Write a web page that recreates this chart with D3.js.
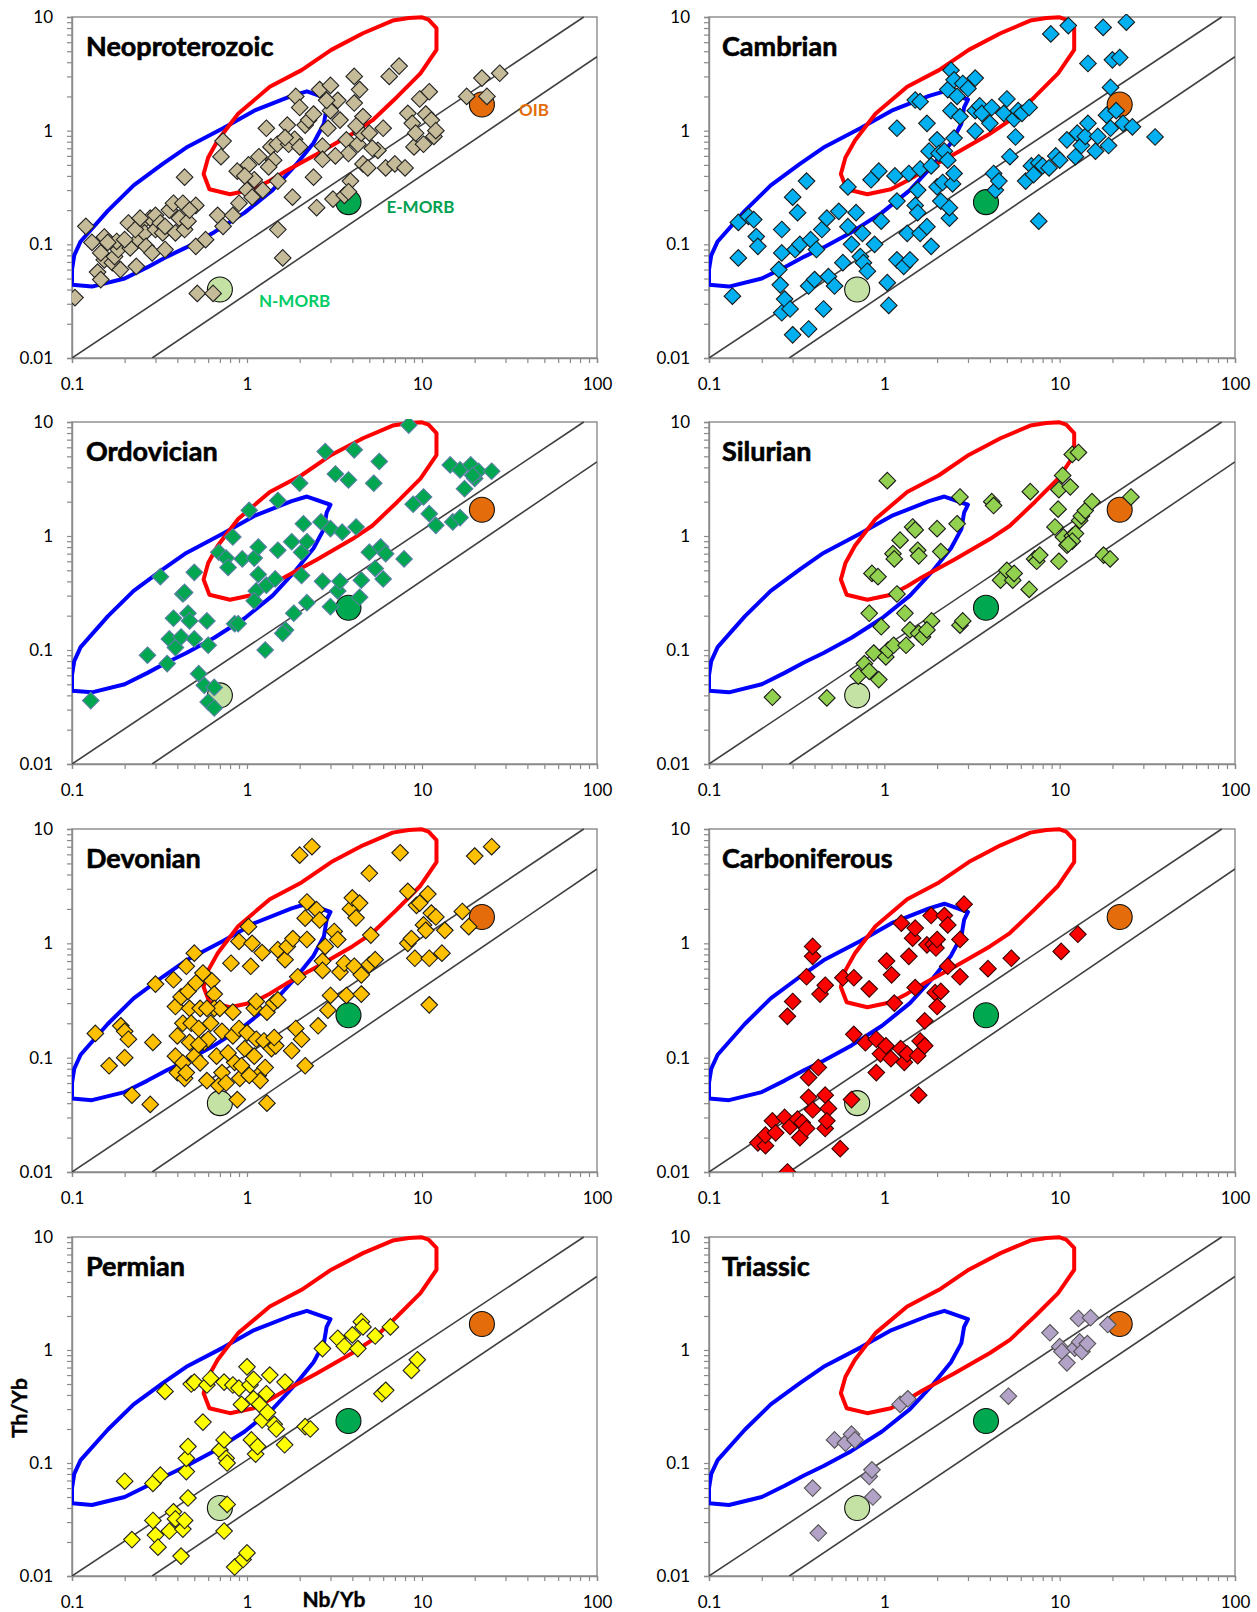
<!DOCTYPE html>
<html>
<head>
<meta charset="utf-8">
<script src="https://cdn.jsdelivr.net/npm/d3@7"></script>
<style>
  body { margin: 0; background: #fff; }
  text { font-family: Lato, "Open Sans", sans-serif; }
</style>
</head>
<body>
<svg id="chart" width="1257" height="1612"></svg>
<script>
// Th/Yb vs Nb/Yb discrimination diagrams by period.

const periods = ["Neoproterozoic", "Cambrian", "Ordovician", "Silurian",
                 "Devonian", "Carboniferous", "Permian", "Triassic"];

const xTickLabels = [0.1, 1, 10, 100];
const yTickLabels = [0.01, 0.1, 1, 10];

// MORB-OIB array boundaries [Nb/Yb, Th/Yb]
const arrayUpper = [[0.1, 0.01], [84, 10]];
const arrayLower = [[0.287, 0.01], [100, 4.47]];

// Outlined fields [Nb/Yb, Th/Yb]
const blueField = [[0.1,0.044],[0.13,0.0425],[0.2,0.05],[0.27,0.063],[0.35,0.078],[0.45,0.094],
  [0.65,0.128],[0.97,0.19],[1.4,0.3],[1.9,0.5],[2.4,0.78],[2.75,1.15],[2.85,1.6],[3.0,1.88],
  [2.2,2.22],[1.8,2.02],[1.1,1.5],[0.73,1.05],[0.45,0.71],[0.33,0.51],[0.225,0.33],[0.16,0.197],
  [0.112,0.106],[0.103,0.08],[0.1,0.06]];
const redField = [[0.8,0.276],[0.61,0.305],[0.565,0.415],[0.6,0.58],[0.68,0.82],[0.89,1.41],
  [1.35,2.43],[2.05,3.41],[3.03,5.14],[4.6,7.2],[6.8,9.3],[8.4,9.8],[10,9.93],[10.9,9.47],
  [12.1,8.0],[12.1,5.13],[9.8,3.19],[7.2,1.98],[5.2,1.23],[4.0,0.94],[2.5,0.62],[1.66,0.44],
  [1.35,0.363],[1.09,0.305]];

// Reference compositions
const refNames = ["N-MORB", "E-MORB", "OIB"];
const refNbYb = [0.7, 3.8, 22];
const refThYb = [0.04, 0.235, 1.7];

// Sample data [Nb/Yb, Th/Yb]
const neoproterozoic = [[0.104,0.034],[0.12,0.144],[0.13,0.104],[0.14,0.057],[0.146,0.049],[0.153,0.116],
  [0.153,0.073],[0.17,0.069],[0.175,0.078],[0.184,0.09],[0.18,0.106],[0.189,0.06],[0.21,0.154],[0.215,0.093],
  [0.233,0.064],[0.24,0.11],[0.25,0.154],[0.26,0.126],[0.265,0.096],[0.28,0.17],[0.287,0.084],[0.30,0.18],
  [0.30,0.135],[0.32,0.154],[0.33,0.126],[0.34,0.09],[0.36,0.20],[0.38,0.23],[0.39,0.126],[0.41,0.17],
  [0.44,0.39],[0.44,0.135],[0.46,0.16],[0.51,0.22],[0.51,0.096],[0.58,0.11],[0.68,0.18],[0.73,0.144],
  [0.73,0.81],[0.71,0.59],[0.83,0.18],[0.90,0.23],[0.88,0.44],[1.0,0.30],[1.02,0.50],[1.1,0.37],
  [1.17,0.59],[1.23,0.30],[1.29,1.05],[1.37,0.72],[1.42,0.55],[1.49,0.76],[1.5,0.36],[1.5,0.135],
  [1.6,0.076],[1.7,1.12],[1.73,0.76],[1.82,0.26],[1.87,0.84],[1.9,2.0],[2.0,1.6],[2.15,1.12],
  [2.25,1.24],[2.4,1.4],[2.4,0.39],[2.5,0.21],[2.6,2.3],[2.7,0.73],[2.7,0.56],[2.9,1.05],[3.0,2.5],
  [3.0,1.5],[3.1,0.25],[3.3,1.85],[3.4,1.24],[3.6,0.27],[3.7,0.83],[3.8,0.63],[3.9,0.36],[4.1,3.0],
  [4.1,1.75],[4.3,0.76],[4.4,2.3],[4.5,0.95],[4.6,1.33],[4.6,0.51],[4.9,0.47],[5.0,0.95],[5.6,0.67],
  [6.0,1.05],[6.2,0.47],[6.5,3.0],[7.0,0.51],[7.4,3.7],[8.0,0.47],[8.3,1.42],[8.8,1.16],[9.0,0.72],
  [9.2,0.95],[9.7,1.9],[10.2,0.76],[10.5,1.4],[11,2.2],[11.3,1.24],[11.7,0.89],[12,1.0],[18,2.0],
  [22,2.9],[23.5,2.0],[27.8,3.2],[0.52,0.037],[0.64,0.037],[0.146,0.084],[0.16,0.104],[0.2,0.11],
  [0.23,0.135],[0.245,0.17],[0.34,0.144],[0.43,0.23],[0.47,0.2],[0.97,0.4],[1.07,0.26],[1.33,0.48],
  [1.65,0.87],[2.0,0.72],[2.85,1.85],[3.2,0.6],[4.2,1.1],[5.2,0.7],[3.8,0.29]];

const cambrian = [[0.136,0.035],[0.147,0.156],[0.147,0.076],[0.168,0.176],[0.18,0.165],[0.186,0.117],
  [0.19,0.096],[0.26,0.135],[0.26,0.084],[0.25,0.06],[0.255,0.044],[0.26,0.025],[0.27,0.033],[0.30,0.016],
  [0.29,0.027],[0.30,0.26],[0.31,0.09],[0.32,0.19],[0.33,0.10],[0.36,0.36],[0.37,0.043],[0.37,0.018],
  [0.38,0.11],[0.40,0.049],[0.41,0.09],[0.44,0.135],[0.45,0.027],[0.47,0.17],[0.48,0.052],[0.52,0.043],
  [0.55,0.195],[0.58,0.069],[0.62,0.32],[0.62,0.143],[0.65,0.10],[0.69,0.19],[0.73,0.078],[0.75,0.125],
  [0.76,0.069],[0.80,0.058],[0.84,0.37],[0.88,0.10],[0.93,0.44],[0.96,0.16],[1.04,0.046],[1.06,0.029],
  [1.15,0.40],[1.18,0.24],[1.18,1.05],[1.18,0.073],[1.29,0.064],[1.35,0.125],[1.38,0.42],[1.4,0.073],
  [1.5,1.86],[1.6,1.8],[1.5,0.22],[1.55,0.30],[1.55,0.19],[1.6,0.125],[1.6,0.46],[1.75,1.16],
  [1.75,0.143],[1.8,0.66],[1.85,0.49],[1.85,0.096],[2.0,0.32],[2.0,0.83],[2.05,0.63],[2.1,0.24],
  [2.15,0.35],[2.2,0.66],[2.3,2.3],[2.3,0.55],[2.35,0.17],[2.35,0.21],[2.4,3.4],[2.4,1.5],[2.45,0.34],
  [2.5,2.8],[2.5,0.86],[2.5,0.42],[2.6,2.0],[2.7,1.33],[2.8,2.6],[3.0,2.35],[3.3,2.9],[3.3,1.5],
  [3.3,0.99],[3.5,1.65],[3.6,1.42],[4.0,1.16],[4.1,1.6],[4.2,0.42],[4.3,0.30],[4.5,0.36],[4.8,1.42],
  [5.0,1.9],[5.2,0.59],[5.5,1.27],[5.6,0.88],[5.8,1.5],[6.1,1.42],[6.4,0.36],[6.7,1.6],[6.9,0.49],
  [7.1,0.41],[7.6,0.16],[7.6,0.52],[8.0,0.49],[8.7,0.47],[8.9,7.1],[9.5,0.60],[10,0.55],[11,0.83],
  [11.2,8.4],[12.3,0.59],[12.6,0.95],[13.3,0.74],[14,0.89],[14.5,3.9],[14.5,1.16],[16,0.66],[16.5,0.89],
  [17.7,8.1],[18.5,1.37],[19,0.74],[19.5,2.4],[19.5,1.05],[20,4.2],[21,1.5],[22,4.4],[23,1.16],
  [24,9.0],[26,1.08],[35,0.88]];

const ordovician = [[0.128,0.036],[0.27,0.09],[0.32,0.44],[0.35,0.076],[0.36,0.125],[0.38,0.19],
  [0.39,0.105],[0.42,0.13],[0.43,0.31],[0.44,0.32],[0.46,0.21],[0.47,0.18],[0.50,0.48],[0.50,0.125],
  [0.53,0.062],[0.57,0.049],[0.59,0.18],[0.60,0.11],[0.60,0.035],[0.65,0.047],[0.65,0.031],[0.69,0.72],
  [0.76,0.64],[0.78,0.53],[0.83,0.98],[0.85,0.17],[0.89,0.17],[0.94,0.63],[1.03,1.68],[1.1,0.64],
  [1.13,0.33],[1.16,0.80],[1.16,0.46],[1.1,0.27],[1.29,0.37],[1.45,0.42],[1.5,2.05],[1.5,0.75],
  [1.66,0.15],[1.6,0.14],[1.27,0.10],[1.8,0.89],[1.85,0.21],[2.0,2.9],[2.05,0.72],[2.05,0.45],
  [2.1,1.28],[2.2,0.26],[2.2,0.89],[2.65,1.33],[2.7,0.40],[2.8,5.5],[3.0,0.24],[3.0,1.16],[3.2,3.5],
  [3.3,0.33],[3.4,0.40],[3.5,1.08],[3.8,3.1],[4.1,5.7],[4.2,1.2],[4.4,0.29],[4.5,0.41],[5.0,0.72],
  [5.3,2.9],[5.4,0.52],[5.7,4.5],[5.8,0.80],[6.0,0.42],[6.2,0.70],[7.9,0.63],[8.4,9.4],[8.9,1.9],
  [10.2,2.2],[11,1.57],[12,1.24],[14.5,4.2],[15,1.33],[16.5,3.8],[16.5,1.45],[17.5,2.6],[19,4.2],
  [20,3.2],[21,3.7],[25,3.7],[19.5,3.4]];

const silurian = [[0.23,0.0385],[0.47,0.038],[0.71,0.059],[0.77,0.076],[0.82,0.065],[0.82,0.21],
  [0.87,0.094],[0.93,0.055],[0.96,0.16],[1.04,3.06],[0.85,0.47],[0.92,0.44],[1.02,0.087],[1.05,0.10],
  [1.13,0.11],[1.12,0.70],[1.14,0.63],[1.18,0.31],[1.23,0.92],[1.31,0.21],[1.33,0.11],[1.4,0.15],
  [1.45,1.2],[1.5,1.13],[1.55,0.75],[1.57,0.67],[1.57,0.14],[1.65,0.13],[1.86,0.18],[2.0,1.16],
  [2.1,0.73],[2.6,1.28],[2.7,2.2],[2.7,0.165],[2.8,0.18],[4.1,2.0],[4.2,1.85],[4.6,0.41],[5.0,0.50],
  [5.4,0.41],[5.5,0.47],[6.7,0.34],[6.8,2.45],[7.2,0.63],[7.4,0.60],[7.7,0.68],[9.9,2.55],[9.4,1.2],
  [9.8,1.72],[9.9,0.60],[10.4,3.4],[10.5,0.98],[11,0.83],[11.5,2.7],[11.8,5.2],[11.8,1.0],[12.3,1.05],
  [12.8,5.4],[13,1.37],[13.3,1.5],[14,1.67],[15.3,2.0],[17.8,0.68],[19.4,0.63],[25.5,2.2],[11.8,0.9],
  [11.2,0.85],[1.75,0.15]];

const devonian = [[0.136,0.163],[0.163,0.085],[0.19,0.19],[0.2,0.17],[0.21,0.145],[0.2,0.1],[0.22,0.047],
  [0.28,0.039],[0.29,0.136],[0.3,0.44],[0.38,0.48],[0.39,0.28],[0.4,0.155],[0.39,0.103],[0.4,0.074],
  [0.42,0.34],[0.43,0.2],[0.44,0.066],[0.45,0.63],[0.46,0.38],[0.47,0.27],[0.47,0.136],[0.48,0.2],
  [0.5,0.82],[0.5,0.103],[0.51,0.45],[0.53,0.18],[0.54,0.27],[0.54,0.09],[0.56,0.55],[0.57,0.136],
  [0.59,0.063],[0.6,0.145],[0.63,0.47],[0.65,0.36],[0.65,0.27],[0.67,0.103],[0.69,0.057],[0.7,0.27],
  [0.72,0.17],[0.72,0.074],[0.76,0.06],[0.81,0.67],[0.83,0.25],[0.83,0.155],[0.85,0.091],[0.88,0.043],
  [0.9,1.04],[0.9,0.18],[0.91,0.066],[0.97,0.12],[1.0,0.165],[1.02,1.4],[1.05,0.63],[1.07,1.0],
  [1.1,0.27],[1.1,0.103],[1.13,0.31],[1.13,0.145],[1.16,0.07],[1.19,0.063],[1.22,0.83],[1.25,0.14],
  [1.27,0.082],[1.3,0.04],[1.3,0.25],[1.38,0.12],[1.42,0.3],[1.46,0.127],[1.5,0.88],[1.5,0.32],
  [1.65,0.72],[1.7,0.94],[1.8,0.115],[1.83,1.1],[1.9,0.18],[1.95,0.51],[2.0,5.9],[2.05,0.145],
  [2.15,0.085],[2.15,1.66],[2.2,1.08],[2.2,2.3],[2.35,7.0],[2.5,1.97],[2.55,0.19],[2.6,1.6],[2.7,0.7],
  [2.7,0.58],[2.8,0.94],[2.9,0.26],[3.0,0.35],[3.15,1.27],[3.3,1.08],[3.4,0.56],[3.6,0.67],[3.7,0.35],
  [3.9,2.0],[4.0,2.5],[4.1,0.63],[4.2,1.67],[4.4,2.25],[4.5,0.36],[4.5,0.53],[5.0,4.1],[5.0,0.65],
  [5.1,1.18],[5.4,0.72],[7.5,6.2],[8.3,2.85],[8.3,1.0],[8.7,1.1],[9.1,0.74],[9.3,2.15],[9.7,2.25],
  [10.2,1.45],[10.5,1.3],[10.8,2.7],[11,0.74],[11,0.29],[11.3,1.84],[12,1.7],[13,0.82],[13.5,1.3],
  [17,1.9],[18.5,1.4],[20,5.8],[25,7.0],[0.43,0.09],[0.45,0.074],[0.53,0.13],[0.62,0.2],[0.78,0.11],
  [0.93,0.085],[1.03,0.07],[1.43,0.15],[0.59,0.27]];

const carboniferous = [[0.19,0.018],[0.21,0.017],[0.21,0.021],[0.23,0.028],[0.24,0.022],[0.27,0.03],
  [0.28,0.01],[0.28,0.23],[0.3,0.31],[0.29,0.025],[0.32,0.029],[0.33,0.02],[0.34,0.027],[0.36,0.51],
  [0.36,0.024],[0.37,0.067],[0.37,0.045],[0.39,0.77],[0.39,0.94],[0.39,0.035],[0.42,0.082],[0.43,0.36],
  [0.46,0.43],[0.46,0.047],[0.46,0.024],[0.48,0.036],[0.47,0.028],[0.56,0.016],[0.58,0.5],[0.65,0.043],
  [0.67,0.16],[0.67,0.5],[0.78,0.135],[0.82,0.4],[0.9,0.145],[0.9,0.074],[0.95,0.108],[1.02,0.127],
  [1.03,0.7],[1.09,0.098],[1.1,0.53],[1.14,0.3],[1.24,0.12],[1.25,1.5],[1.3,0.091],[1.35,0.108],
  [1.38,0.77],[1.45,1.11],[1.5,1.36],[1.5,0.41],[1.55,0.104],[1.57,0.047],[1.6,0.14],[1.7,0.21],
  [1.7,0.127],[1.75,0.97],[1.85,1.75],[1.9,0.98],[1.95,0.37],[1.97,0.91],[2.0,1.08],[2.0,0.28],
  [2.1,0.38],[2.2,1.75],[2.3,1.45],[2.3,0.63],[2.7,1.08],[2.7,0.51],[2.85,2.2],[3.9,0.6],[5.3,0.74],
  [10.2,0.85],[12.7,1.2]];

const permian = [[0.2,0.069],[0.22,0.021],[0.29,0.066],[0.29,0.031],[0.3,0.023],[0.31,0.018],[0.32,0.078],
  [0.34,0.43],[0.36,0.025],[0.38,0.037],[0.39,0.032],[0.42,0.015],[0.43,0.026],[0.44,0.031],[0.45,0.084],
  [0.45,0.11],[0.46,0.14],[0.46,0.049],[0.48,0.5],[0.5,0.52],[0.56,0.23],[0.59,0.49],[0.62,0.56],
  [0.7,0.13],[0.74,0.52],[0.74,0.16],[0.74,0.025],[0.76,0.11],[0.77,0.1],[0.77,0.043],[0.83,0.49],
  [0.85,0.012],[0.9,0.46],[0.93,0.33],[0.95,0.014],[1.0,0.016],[1.0,0.71],[1.04,0.49],[1.06,0.16],
  [1.09,0.55],[1.09,0.37],[1.12,0.12],[1.15,0.14],[1.18,0.33],[1.22,0.24],[1.29,0.41],[1.31,0.28],
  [1.35,0.6],[1.43,0.22],[1.47,0.2],[1.64,0.145],[1.65,0.52],[2.15,0.21],[2.3,0.2],[2.7,1.03],
  [3.3,1.27],[3.6,1.08],[4.0,1.36],[4.3,1.03],[4.5,1.78],[4.6,1.6],[5.4,1.33],[5.9,0.41],[6.2,0.44],
  [6.6,1.6],[8.7,0.66],[9.4,0.82]];

const triassic = [[0.39,0.06],[0.42,0.024],[0.52,0.16],[0.6,0.15],[0.65,0.18],[0.68,0.16],[0.82,0.076],
  [0.85,0.087],[0.86,0.05],[1.23,0.33],[1.36,0.37],[5.1,0.39],[8.8,1.42],[10,1.07],[10.3,0.97],
  [11,0.77],[12.2,1.04],[12.8,1.9],[13,1.18],[13.4,0.97],[14.4,1.14],[15,1.93],[18.8,1.68]];

const samples = [neoproterozoic, cambrian, ordovician, silurian, devonian, carboniferous, permian, triassic];

// Marker styles per period
const markerFill = ["#c6bb98", "#00b0f0", "#00a650", "#92d050", "#ffc000", "#ff0000", "#ffff00", "#b3a2c7"];
const markerStroke = ["#222", "#1a1a1a", "#5b7fa6", "#1a1a1a", "#1a1a1a", "#3a0000", "#222", "#555"];
const refFill = ["#c4e2a4", "#00a94f", "#e46c0a"];
const refLabelColor = ["#00cc66", "#00a050", "#e46c0a"];

// Layout
const colLeft = [72, 709];
const colWidth = [525, 526];
const rowTop = [17, 422, 829, 1237];
const rowHeight = [341, 342, 343, 339];

const svg = d3.select("#chart");
const axisGray = "#8a8a8a";

const minorTicks = [];
[0.1, 1, 10].forEach(d => { for (let k = 1; k <= 9; k++) minorTicks.push(+(d * k).toPrecision(6)); });
minorTicks.push(100);
const yMinor = [];
[0.01, 0.1, 1].forEach(d => { for (let k = 1; k <= 9; k++) yMinor.push(+(d * k).toPrecision(6)); });
yMinor.push(10);

const fmt = v => String(v);

periods.forEach((name, i) => {
  const col = i % 2, row = Math.floor(i / 2);
  const w = colWidth[col], h = rowHeight[row];
  const g = svg.append("g").attr("transform", `translate(${colLeft[col]},${rowTop[row]})`);

  const x = d3.scaleLog().domain([0.1, 100]).range([0, w]);
  const y = d3.scaleLog().domain([0.01, 10]).range([h, 0]);

  const clipId = "clip" + i;
  g.append("clipPath").attr("id", clipId)
    .append("rect").attr("x", 0).attr("y", -3).attr("width", w).attr("height", h + 3);

  // axes
  const xAxis = d3.axisBottom(x).tickValues(minorTicks).tickSize(5).tickPadding(15)
    .tickFormat(v => xTickLabels.includes(v) ? fmt(v) : "");
  const yAxis = d3.axisLeft(y).tickValues(yMinor).tickSize(5).tickPadding(14)
    .tickFormat(v => yTickLabels.includes(v) ? fmt(v) : "");

  const gx = g.append("g").attr("transform", `translate(0,${h})`).call(xAxis);
  const gy = g.append("g").call(yAxis);
  [gx, gy].forEach(a => {
    a.select(".domain").attr("stroke", axisGray).attr("stroke-width", 1.4);
    a.selectAll(".tick line").attr("stroke", axisGray).attr("stroke-width", 1.2);
    a.selectAll(".tick text").attr("fill", "#000").style("font-size", "17px")
      .style("font-family", "Lato, sans-serif");
  });

  // frame
  g.append("rect").attr("width", w).attr("height", h)
    .attr("fill", "none").attr("stroke", axisGray).attr("stroke-width", 1.4);

  const plot = g.append("g").attr("clip-path", `url(#${clipId})`);
  const line = d3.line().x(d => x(d[0])).y(d => y(d[1]));

  // MORB-OIB array
  [arrayUpper, arrayLower].forEach(seg => {
    plot.append("path").attr("d", line(seg)).attr("fill", "none")
      .attr("stroke", "#404040").attr("stroke-width", 1.6);
  });

  // fields
  const closed = d3.line().x(d => x(d[0])).y(d => y(d[1])).curve(d3.curveLinearClosed);
  plot.append("path").attr("d", closed(blueField)).attr("fill", "none")
    .attr("stroke", "#0000ff").attr("stroke-width", 4).attr("stroke-linejoin", "round");
  plot.append("path").attr("d", closed(redField)).attr("fill", "none")
    .attr("stroke", "#ff0000").attr("stroke-width", 4).attr("stroke-linejoin", "round");

  // reference compositions
  refNames.forEach((rn, j) => {
    plot.append("circle").attr("cx", x(refNbYb[j])).attr("cy", y(refThYb[j])).attr("r", 12.5)
      .attr("fill", refFill[j]).attr("stroke", "#111").attr("stroke-width", 1.1);
  });

  // samples
  const diamond = "M0,-8.3L8.3,0L0,8.3L-8.3,0Z";
  plot.selectAll("path.pt").data(samples[i]).enter().append("path")
    .attr("class", "pt")
    .attr("d", diamond)
    .attr("transform", d => `translate(${x(d[0])},${y(d[1])})`)
    .attr("fill", markerFill[i]).attr("stroke", markerStroke[i]).attr("stroke-width", 1.1);

  // period title
  g.append("text").attr("x", col === 0 ? 14 : 13).attr("y", 39)
    .attr("font-weight", 700).style("font-size", "27px")
    .attr("stroke", "#000").attr("stroke-width", 0.6).text(name);

  // reference labels on the first diagram
  if (i === 0) {
    const off = [[39, 17], [38, 11], [37, 12]];
    refNames.forEach((rn, j) => {
      g.append("text").attr("x", x(refNbYb[j]) + off[j][0]).attr("y", y(refThYb[j]) + off[j][1])
        .attr("fill", refLabelColor[j]).attr("font-weight", 700).style("font-size", "17px").text(rn);
    });
  }
});

// axis titles
svg.append("text").attr("transform", "translate(27,1408) rotate(-90)")
  .attr("text-anchor", "middle").attr("font-weight", 700).style("font-size", "21px")
  .attr("stroke", "#000").attr("stroke-width", 0.4).text("Th/Yb");
svg.append("text").attr("x", 334).attr("y", 1607)
  .attr("text-anchor", "middle").attr("font-weight", 700).style("font-size", "21px")
  .attr("stroke", "#000").attr("stroke-width", 0.4).text("Nb/Yb");
</script>
</body>
</html>
